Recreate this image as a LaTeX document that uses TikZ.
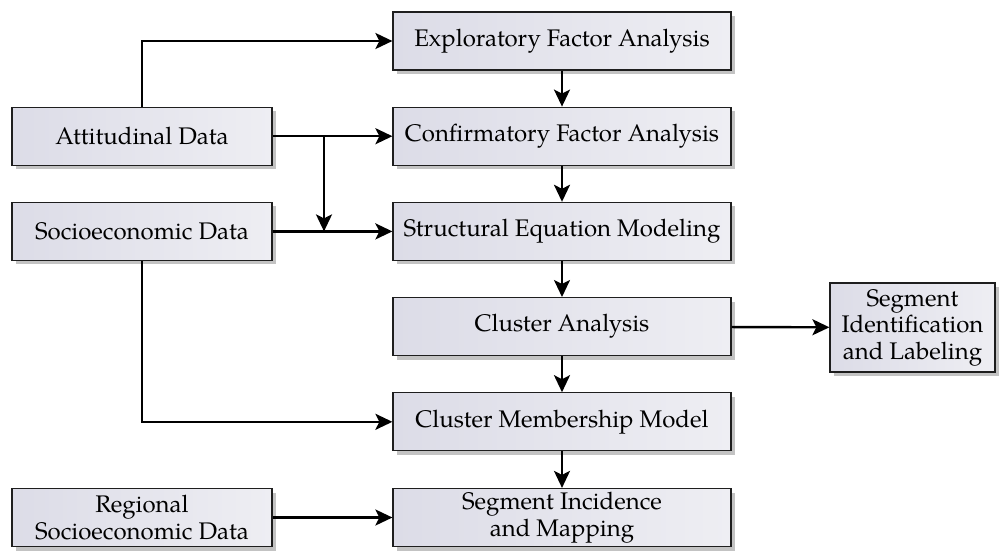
\documentclass[tikz,border=0pt]{standalone}
\usepackage{fontspec}
\setmainfont{texgyrepagella}[Extension=.otf, UprightFont=*-regular, BoldFont=*-bold, ItalicFont=*-italic]
\usetikzlibrary{arrows.meta,shadows}
\definecolor{boxleft}{RGB}{220,220,231}
\definecolor{boxright}{RGB}{238,238,243}
\definecolor{boxline}{RGB}{30,30,30}
\definecolor{shadowgray}{RGB}{195,195,195}
\tikzset{
  stage/.style={draw=boxline, line width=0.6pt, left color=boxleft, right color=boxright,
    minimum height=29pt, inner sep=0pt, align=center,
    font=\fontsize{12}{13.2}\selectfont,
    drop shadow={shadow xshift=2pt, shadow yshift=-2pt, fill=shadowgray, opacity=1}},
  wide/.style={stage, minimum width=169pt},
  side/.style={stage, minimum width=130pt},
  flow/.style={line width=1.2pt, -{Stealth[length=8.5pt, width=8pt, inset=2pt]}}
}
\begin{document}
\begin{tikzpicture}[x=0.5pt, y=-0.5pt]
\useasboundingbox (0,0) rectangle (1001,553);

% main column
\node[wide] (efa) at (562,41)    {Exploratory Factor Analysis};
\node[wide] (cfa) at (562,136.2) {Confirmatory Factor Analysis};
\node[wide] (sem) at (562,231.4) {Structural Equation Modeling};
\node[wide] (ca)  at (562,326.6) {Cluster Analysis};
\node[wide] (cmm) at (562,421.8) {Cluster Membership Model};
\node[wide] (sim) at (562,517.5) {Segment Incidence\\and Mapping};

% inputs
\node[side] (att) at (142,136.2) {Attitudinal Data};
\node[side] (soc) at (142,231.4) {Socioeconomic Data};
\node[side] (reg) at (142,517.5) {Regional\\Socioeconomic Data};

% output
\node[stage, minimum width=82.5pt, minimum height=44.5pt] (seg) at (912.5,327.5)
  {Segment\\Identification\\and Labeling};

\coordinate (split) at (324,136.2);
\coordinate (merge) at (324,231.4);

% vertical chain
\draw[flow] (efa) -- (cfa);
\draw[flow] (cfa) -- (sem);
\draw[flow] (sem) -- (ca);
\draw[flow] (ca)  -- (cmm);
\draw[flow] (cmm) -- (sim);

% side inputs
\draw[flow] (att.north) |- (efa.west);
\draw[flow] (att) -- (cfa);
\draw[flow] (split) -- (merge);
\draw[flow] (soc) -- (sem);
\draw[flow] (soc.south) |- (cmm.west);
\draw[flow] (reg) -- (sim);
\draw[flow] (ca) -- (seg);
\end{tikzpicture}
\end{document}
